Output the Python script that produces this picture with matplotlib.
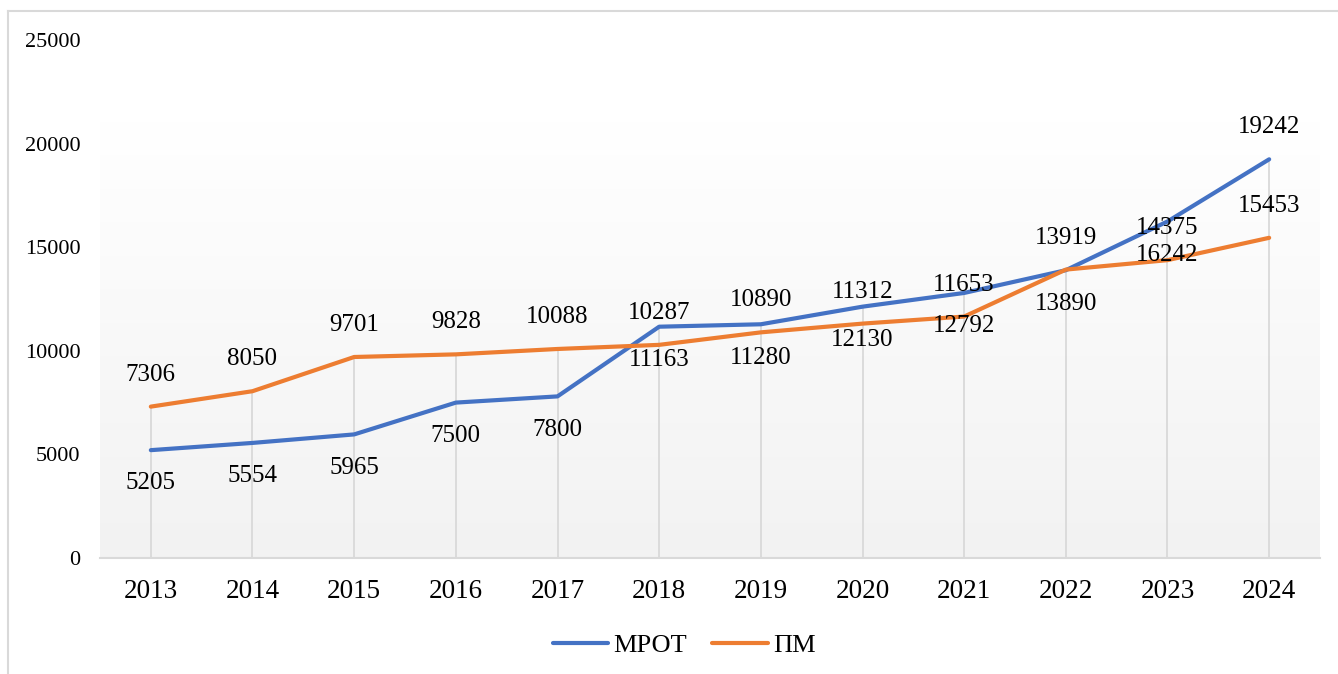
import numpy as np
import matplotlib.pyplot as plt
from matplotlib.lines import Line2D

years = ["2013", "2014", "2015", "2016", "2017", "2018",
         "2019", "2020", "2021", "2022", "2023", "2024"]
mrot = [5205, 5554, 5965, 7500, 7800, 11163, 11280, 12130, 12792, 13890, 16242, 19242]
pm = [7306, 8050, 9701, 9828, 10088, 10287, 10890, 11312, 11653, 13919, 14375, 15453]

# label offsets (points) above(+) / below(-) each point
mrot_off = [-24, -24, -24, -24, -24, -24, -24, -24, -24, -24, -24, 23]
pm_off = [23] * 12

plt.rcParams['font.family'] = ['Liberation Serif', 'DejaVu Serif']

W, H = 1338, 674
fig = plt.figure(figsize=(W / 100, H / 100), dpi=100)
ax = fig.add_axes([100 / W, 1 - 558 / H, 1220 / W, 518 / H])

x = np.arange(len(years))
ax.set_xlim(-0.5, len(years) - 0.5)
ax.set_ylim(0, 25000)

# gradient background, white on top to light grey at bottom
grad = np.concatenate([np.ones(40), np.linspace(1.0, 0.949, 216)]).reshape(-1, 1)
ax.imshow(np.dstack([grad, grad, grad]), extent=[-0.5, len(years) - 0.5, 0, 25000],
          aspect='auto', origin='upper', zorder=0)

# drop lines from the higher series down to the axis
top = np.maximum(mrot, pm)
ax.vlines(x, 0, top, color='#d9d9d9', lw=1.3, zorder=1)

blue = '#4472C4'
orange = '#ED7D31'
ax.plot(x, mrot, color=blue, lw=3, solid_capstyle='round', zorder=3)
ax.plot(x, pm, color=orange, lw=3, solid_capstyle='round', zorder=3)

for xi, v, o in zip(x, mrot, mrot_off):
    ax.annotate(str(v), (xi, v), xytext=(0, o), textcoords='offset points',
                ha='center', va='center', fontsize=18, zorder=4)
for xi, v, o in zip(x, pm, pm_off):
    ax.annotate(str(v), (xi, v), xytext=(0, o), textcoords='offset points',
                ha='center', va='center', fontsize=18, zorder=4)

ax.set_xticks(x)
ax.set_xticklabels(years, fontsize=19.5)
ax.set_yticks(range(0, 25001, 5000))
ax.tick_params(axis='y', labelsize=16, length=0, pad=14)
ax.tick_params(axis='x', length=0, pad=15)
for s in ['top', 'right', 'left']:
    ax.spines[s].set_visible(False)
ax.spines['bottom'].set_color('#d9d9d9')
ax.spines['bottom'].set_linewidth(1.5)
ax.spines['bottom'].set_zorder(2)

handles = [Line2D([], [], color=blue, lw=3, solid_capstyle='round'),
           Line2D([], [], color=orange, lw=3, solid_capstyle='round')]
fig.legend(handles, ['МРОТ', 'ПМ'], loc='center', bbox_to_anchor=(684 / W, 1 - 645 / H),
           ncol=2, frameon=False, fontsize=19, handlelength=2.1, handletextpad=0.2,
           columnspacing=0.95)

# outer chart border (top and left visible)
fig.add_artist(Line2D([8 / W, 8 / W], [0, 1 - 11 / H], color='#d9d9d9', lw=1.5))
fig.add_artist(Line2D([8 / W, 1], [1 - 11 / H, 1 - 11 / H], color='#d9d9d9', lw=1.5))

fig.savefig('out.png', dpi=100)
